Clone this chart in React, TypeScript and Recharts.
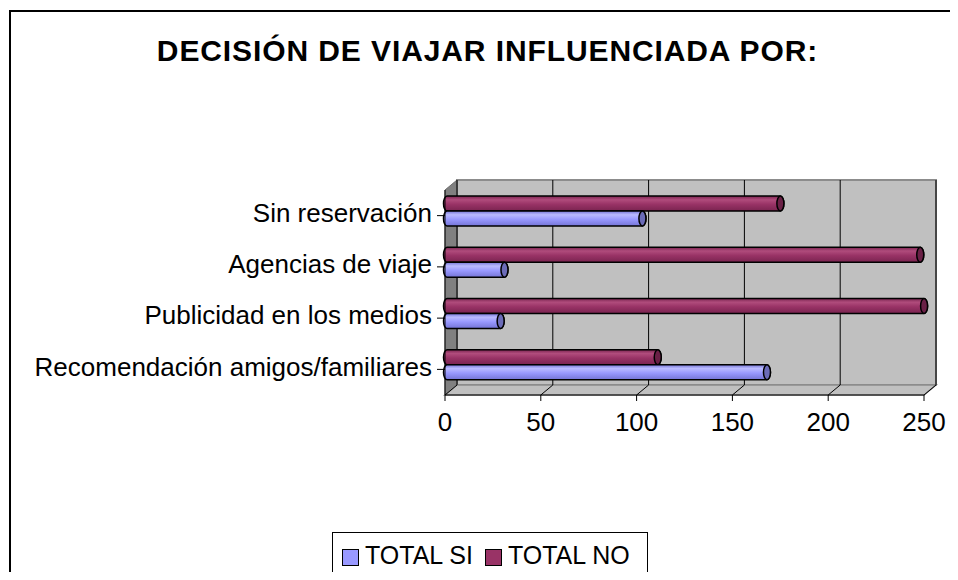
import React from "react";
import { BarChart, Bar, XAxis, YAxis, CartesianGrid } from "recharts";

const categories = [
  "Sin reservación",
  "Agencias de viaje",
  "Publicidad en los medios",
  "Recomendación amigos/familiares",
];
const totalSi = [102, 30, 28, 167];
const totalNo = [174, 247, 249, 110];
const xTicks = [0, 50, 100, 150, 200, 250];
const seriesNames = ["TOTAL SI", "TOTAL NO"];

const data = categories.map((name, i) => ({ name, si: totalSi[i], no: totalNo[i] }));

const FONT = "Arial, 'Liberation Sans', sans-serif";
const W = 958;
const H = 580;
// plot box (front face) and 3d depth
const PL = 445;
const PR = 924;
const PT = 190;
const PB = 395;
const DX = 12;
const DY = -10;

const COLORS = {
  si: { base: "#9999ff", light: "#babaff", dark: "#7474d6", cap: "#6b6bb8" },
  no: { base: "#993366", light: "#b04c7c", dark: "#7a2450", cap: "#6a2046" },
};

function Cylinder(props: any) {
  const { x, y, width, height, kind } = props;
  if (!width || width <= 0) return null;
  const c = COLORS[kind as "si" | "no"];
  const bx = x + 2;
  const by = y - 5;
  const ry = height / 2;
  const rx = 3.5;
  const body = `M${bx},${by} L${bx + width},${by} A${rx},${ry} 0 0 1 ${bx + width},${by + height} L${bx},${by + height} A${rx},${ry} 0 0 1 ${bx},${by} Z`;
  return (
    <g>
      <path d={body} fill={`url(#grad-${kind})`} stroke="#000" strokeWidth={1.5} />
      <ellipse cx={bx + width} cy={by + ry} rx={rx} ry={ry} fill={c.cap} stroke="#000" strokeWidth={1.5} />
    </g>
  );
}

function Gradient({ id, c }: { id: string; c: { base: string; light: string; dark: string } }) {
  return (
    <linearGradient id={id} x1="0" y1="0" x2="0" y2="1">
      <stop offset="0%" stopColor={c.dark} />
      <stop offset="25%" stopColor={c.light} />
      <stop offset="55%" stopColor={c.base} />
      <stop offset="100%" stopColor={c.dark} />
    </linearGradient>
  );
}

function GridLine(p: any) {
  const { x1, y1, y2 } = p;
  return (
    <path
      key={p.key ?? `g-${x1}`}
      d={`M${x1},${y2} L${x1 + DX},${y2 + DY} L${x1 + DX},${y1 + DY}`}
      stroke="#000"
      strokeWidth={1}
      fill="none"
    />
  );
}

export default function App() {
  return (
    <div
      style={{
        position: "relative",
        width: W,
        height: H,
        margin: -8,
        overflow: "hidden",
        background: "#fff",
        fontFamily: FONT,
      }}
    >
      <div
        style={{
          position: "absolute",
          left: 9,
          top: 10,
          width: 1200,
          height: 1200,
          border: "2px solid #000",
          boxSizing: "border-box",
        }}
      />
      <div
        style={{
          position: "absolute",
          left: 0,
          width: 975,
          top: 34,
          textAlign: "center",
          fontWeight: "bold",
          fontSize: 30,
          letterSpacing: 0.9,
          whiteSpace: "nowrap",
        }}
      >
        DECISIÓN DE VIAJAR INFLUENCIADA POR:
      </div>

      {/* 3d walls */}
      <svg width={W} height={H} style={{ position: "absolute", left: 0, top: 0 }}>
        <rect x={PL + DX} y={PT + DY} width={PR - PL} height={PB - PT} fill="#c0c0c0" stroke="#8c8c8c" strokeWidth={2} />
        <polygon
          points={`${PL},${PT} ${PL + DX},${PT + DY} ${PL + DX},${PB + DY} ${PL},${PB}`}
          fill="#808080"
          stroke="#6c6c6c"
        />
        <polygon
          points={`${PL},${PB} ${PL + DX},${PB + DY} ${PR + DX},${PB + DY} ${PR},${PB}`}
          fill="#c0c0c0"
          stroke="#8c8c8c"
          strokeWidth={1.5}
        />
      </svg>

      <div style={{ position: "absolute", left: 0, top: 0 }}>
        <BarChart
          width={W}
          height={H}
          data={data}
          layout="vertical"
          margin={{ top: PT, right: W - PR, bottom: 0, left: 0 }}
          barSize={15}
          barGap={0}
        >
          <defs>
            <Gradient id="grad-si" c={COLORS.si} />
            <Gradient id="grad-no" c={COLORS.no} />
          </defs>
          <CartesianGrid horizontal={false} vertical={GridLine} />
          <XAxis
            type="number"
            domain={[0, 250]}
            ticks={xTicks}
            interval={0}
            height={H - PB}
            tickSize={6}
            tickMargin={12}
            stroke="#000"
            tick={{ fontSize: 26, fill: "#000", fontFamily: FONT }}
          />
          <YAxis
            type="category"
            dataKey="name"
            width={PL}
            tickSize={8}
            tickMargin={5}
            stroke="#000"
            tick={{ fontSize: 26, fill: "#000", fontFamily: FONT, dy: -3 }}
          />
          <Bar dataKey="no" name={seriesNames[1]} fill={COLORS.no.base} shape={<Cylinder kind="no" />} isAnimationActive={false} />
          <Bar dataKey="si" name={seriesNames[0]} fill={COLORS.si.base} shape={<Cylinder kind="si" />} isAnimationActive={false} />
        </BarChart>
      </div>

      {/* legend */}
      <div
        style={{
          position: "absolute",
          left: 332,
          top: 532,
          width: 316,
          height: 47,
          border: "1px solid #000",
          boxSizing: "border-box",
          display: "flex",
          alignItems: "center",
          paddingLeft: 9,
          fontSize: 25,
          whiteSpace: "nowrap",
        }}
      >
        {seriesNames.map((n, i) => (
          <span key={n} style={{ display: "flex", alignItems: "center", marginRight: 12 }}>
            <span
              style={{
                width: 15,
                height: 15,
                border: "1.5px solid #000",
                background: i === 0 ? COLORS.si.base : COLORS.no.base,
                marginRight: 6,
                marginTop: 4,
                display: "inline-block",
                flexShrink: 0,
              }}
            />
            {n}
          </span>
        ))}
      </div>
    </div>
  );
}
